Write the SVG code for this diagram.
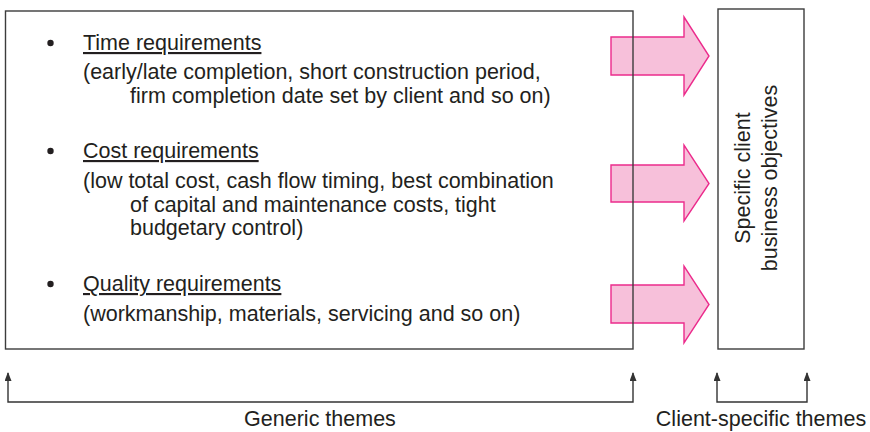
<svg xmlns="http://www.w3.org/2000/svg" width="870" height="432" viewBox="0 0 870 432">
  <style>
    text { font-family: "Liberation Sans", Arial, sans-serif; font-size: 21.5px; fill: #231f20; }
    .box { fill: none; stroke: #3c3c3c; stroke-width: 1.4; }
    .fat { fill: #f7c0da; stroke: #ec2b8c; stroke-width: 1.4; stroke-linejoin: miter; }
    .lead { fill: none; stroke: #333; stroke-width: 1.4; }
    .u { text-decoration: underline; }
  </style>
  <defs>
    <marker id="tip" viewBox="0 0 9 7" refX="8" refY="3.5" markerWidth="9" markerHeight="7" markerUnits="userSpaceOnUse" orient="auto-start-reverse">
      <path d="M0,0 L9,3.5 L0,7 Z" fill="#333"/>
    </marker>
  </defs>

  <!-- block arrows feeding the objectives box -->
  <g id="arrows">
    <path class="fat" d="M611,37 H684 V17 L709,56 L684,95 V75 H611 Z"/>
    <path class="fat" d="M611,165 H684 V145 L709,183.5 L684,221 V202 H611 Z"/>
    <path class="fat" d="M611,285 H684 V266 L709,304.5 L684,343 V323 H611 Z"/>
  </g>

  <!-- generic requirements -->
  <g id="requirements">
    <rect class="box" x="5.5" y="11" width="627.5" height="338"/>
    <g id="time">
      <circle cx="50.5" cy="43" r="3.2" fill="#231f20"/>
      <text x="83" y="50" class="u">Time requirements</text>
      <text x="83" y="79">(early/late completion, short construction period,</text>
      <text x="130" y="103">firm completion date set by client and so on)</text>
    </g>
    <g id="cost">
      <circle cx="50.5" cy="151" r="3.2" fill="#231f20"/>
      <text x="83" y="158" class="u">Cost requirements</text>
      <text x="83" y="188">(low total cost, cash flow timing, best combination</text>
      <text x="130" y="212">of capital and maintenance costs, tight</text>
      <text x="130" y="235">budgetary control)</text>
    </g>
    <g id="quality">
      <circle cx="50.5" cy="284" r="3.2" fill="#231f20"/>
      <text x="83" y="291" class="u">Quality requirements</text>
      <text x="83" y="321">(workmanship, materials, servicing and so on)</text>
    </g>
  </g>

  <!-- client objectives -->
  <g id="objectives">
    <rect class="box" x="718" y="9" width="86" height="340"/>
    <text transform="translate(750,178) rotate(-90)" text-anchor="middle">Specific client</text>
    <text transform="translate(777,178) rotate(-90)" text-anchor="middle">business objectives</text>
  </g>

  <!-- bracket connectors -->
  <g id="connectors">
    <path class="lead" d="M8,373 V402 H633 V373" marker-start="url(#tip)" marker-end="url(#tip)"/>
    <path class="lead" d="M717,373 V402 H807 V373" marker-start="url(#tip)" marker-end="url(#tip)"/>
  </g>

  <g id="labels">
    <text x="320" y="426" text-anchor="middle">Generic themes</text>
    <text x="761" y="426" text-anchor="middle">Client-specific themes</text>
  </g>
</svg>
